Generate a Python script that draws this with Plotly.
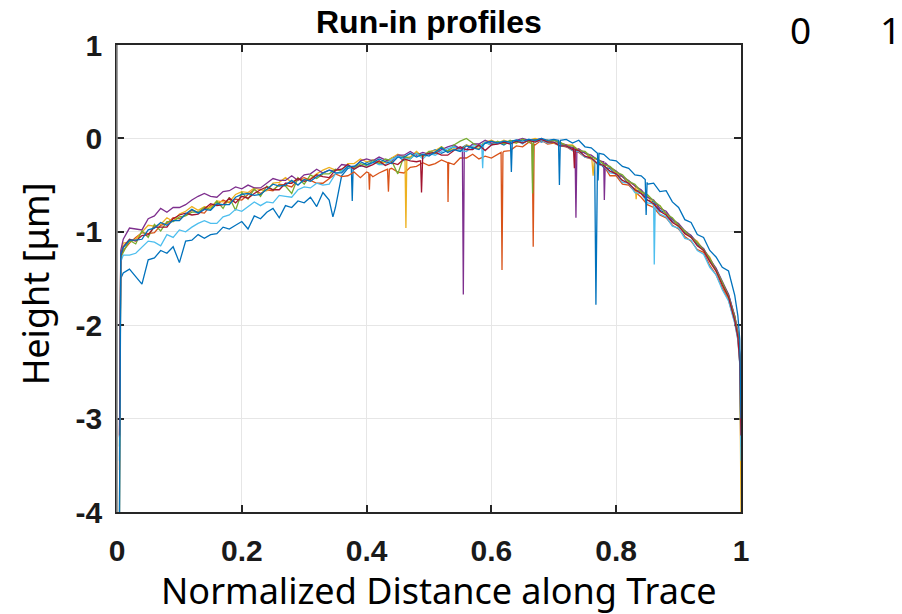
import plotly.graph_objects as go

# ---------------- data ----------------
X_GRID = [0.004, 0.006,
          0.01, 0.02, 0.03, 0.04, 0.05, 0.06, 0.07, 0.08, 0.09, 0.10,
          0.11, 0.12, 0.13, 0.14, 0.15, 0.16, 0.17, 0.18, 0.19, 0.20,
          0.21, 0.22, 0.23, 0.24, 0.25, 0.26, 0.27, 0.28, 0.29, 0.30,
          0.31, 0.32, 0.33, 0.34, 0.35, 0.36, 0.37, 0.38, 0.39, 0.40,
          0.41, 0.42, 0.43, 0.44, 0.45, 0.46, 0.47, 0.48, 0.49, 0.50,
          0.51, 0.52, 0.53, 0.54, 0.55, 0.56, 0.57, 0.58, 0.59, 0.60,
          0.61, 0.62, 0.63, 0.64, 0.65, 0.66, 0.67, 0.68, 0.69, 0.70,
          0.71, 0.72, 0.73, 0.74, 0.75, 0.76, 0.77, 0.78, 0.79, 0.80,
          0.81, 0.82, 0.83, 0.84, 0.85, 0.86, 0.87, 0.88, 0.89, 0.90,
          0.91, 0.92, 0.93, 0.94, 0.95, 0.96, 0.97, 0.98, 0.99,
          0.995, 0.998, 1.0]

profile_1 = [-4.0, -1.50,
             -1.44, -1.40, -1.48, -1.56, -1.30, -1.28, -1.20, -1.23, -1.16, -1.33,
             -1.10, -1.09, -1.03, -1.07, -1.03, -1.02, -0.95, -0.97, -0.93, -0.89,
             -0.97, -0.83, -0.86, -0.79, -0.75, -0.85, -0.72, -0.74, -0.67, -0.69,
             -0.63, -0.73, -0.58, -0.66, -0.74, -0.40, -0.32, -0.30, -0.30, -0.26,
             -0.23, -0.28, -0.25, -0.21, -0.19, -0.24, -0.20, -0.16, -0.19, -0.15,
             -0.12, -0.16, -0.13, -0.09, -0.11, -0.07, -0.11, -0.08, -0.05, -0.06,
             -0.04, -0.07, -0.03, -0.02, -0.05, -0.02, -0.01, -0.04, -0.02, -0.05,
             -0.05, -0.09, -0.10, -0.15, -0.15, -0.22, -0.24, -0.31, -0.32, -0.39,
             -0.41, -0.49, -0.55, -0.57, -0.66, -0.68, -0.77, -0.80, -0.89, -0.92,
             -1.01, -1.04, -1.14, -1.18, -1.31, -1.39, -1.55, -1.67, -1.91,
             -2.07, -2.30, -2.60]
spikes_1 = [(0.346, -0.84), (0.3755, -0.31), (0.377, -0.67), (0.3785, -0.30),
            (0.7655, -0.23), (0.7675, -1.78), (0.7695, -0.24)]

profile_2 = [-3.55, -1.25,
             -1.20, -1.12, -1.06, -1.01, -1.02, -1.01, -0.93, -0.91, -0.85, -0.86,
             -0.82, -0.77, -0.79, -0.80, -0.72, -0.71, -0.66, -0.69, -0.65, -0.66,
             -0.60, -0.55, -0.59, -0.55, -0.56, -0.49, -0.50, -0.52, -0.44, -0.42,
             -0.45, -0.48, -0.48, -0.43, -0.38, -0.41, -0.40, -0.36, -0.42, -0.36,
             -0.41, -0.37, -0.34, -0.32, -0.36, -0.37, -0.31, -0.30, -0.26, -0.29,
             -0.27, -0.23, -0.26, -0.28, -0.21, -0.21, -0.17, -0.22, -0.19, -0.21,
             -0.17, -0.14, -0.13, -0.08, -0.09, -0.04, -0.07, -0.02, -0.06, -0.05,
             -0.08, -0.09, -0.13, -0.15, -0.20, -0.22, -0.27, -0.29, -0.40, -0.40,
             -0.49, -0.50, -0.57, -0.63, -0.71, -0.74, -0.82, -0.85, -0.93, -0.97,
             -1.05, -1.10, -1.19, -1.22, -1.36, -1.46, -1.60, -1.73, -1.97,
             -2.15, -2.40, -3.55]
spikes_2 = [(0.4035, -0.37), (0.4045, -0.55), (0.4055, -0.38),
            (0.4335, -0.33), (0.435, -0.57), (0.4365, -0.33),
            (0.5295, -0.26), (0.5305, -0.68), (0.5315, -0.26),
            (0.6155, -0.15), (0.617, -1.41), (0.6185, -0.15),
            (0.6655, -0.06), (0.667, -1.16), (0.6685, -0.06)]

profile_3 = [-4.0, -1.24,
             -1.12, -1.11, -1.08, -1.00, -0.93, -0.94, -0.92, -0.85, -0.89, -0.81,
             -0.78, -0.73, -0.77, -0.73, -0.74, -0.67, -0.68, -0.68, -0.60, -0.57,
             -0.58, -0.53, -0.55, -0.56, -0.48, -0.47, -0.42, -0.47, -0.43, -0.45,
             -0.43, -0.38, -0.34, -0.31, -0.34, -0.34, -0.27, -0.27, -0.22, -0.25,
             -0.23, -0.26, -0.26, -0.21, -0.17, -0.20, -0.20, -0.14, -0.20, -0.14,
             -0.13, -0.09, -0.14, -0.11, -0.13, -0.07, -0.09, -0.11, -0.04, -0.02,
             -0.05, -0.02, -0.04, -0.05, -0.01, -0.02, 0.00, -0.02, -0.02, -0.05,
             -0.05, -0.07, -0.07, -0.13, -0.15, -0.22, -0.22, -0.27, -0.31, -0.37,
             -0.41, -0.47, -0.50, -0.58, -0.61, -0.72, -0.72, -0.81, -0.86, -0.95,
             -0.99, -1.06, -1.10, -1.20, -1.27, -1.42, -1.56, -1.71, -1.90,
             -2.08, -2.33, -4.0]
spikes_3 = [(0.4615, -0.20), (0.463, -0.96), (0.4645, -0.20),
            (0.761, -0.22), (0.763, -0.40), (0.765, -0.22),
            (0.8305, -0.51), (0.832, -0.65), (0.8335, -0.52)]

profile_4 = [-3.2, -1.20,
             -1.08, -0.96, -0.97, -0.98, -0.86, -0.83, -0.75, -0.79, -0.74, -0.74,
             -0.71, -0.66, -0.62, -0.59, -0.62, -0.63, -0.57, -0.56, -0.52, -0.54,
             -0.50, -0.53, -0.53, -0.48, -0.43, -0.45, -0.45, -0.40, -0.45, -0.39,
             -0.38, -0.33, -0.37, -0.34, -0.35, -0.28, -0.29, -0.32, -0.24, -0.22,
             -0.24, -0.20, -0.23, -0.25, -0.18, -0.18, -0.14, -0.18, -0.15, -0.17,
             -0.16, -0.12, -0.09, -0.07, -0.11, -0.12, -0.06, -0.06, -0.02, -0.05,
             -0.04, -0.05, -0.05, -0.02, 0.00, -0.02, -0.02, 0.00, -0.04, -0.02,
             -0.05, -0.07, -0.10, -0.11, -0.16, -0.18, -0.23, -0.25, -0.31, -0.35,
             -0.41, -0.45, -0.51, -0.55, -0.63, -0.66, -0.75, -0.78, -0.87, -0.91,
             -0.99, -1.04, -1.12, -1.18, -1.29, -1.39, -1.53, -1.67, -1.90,
             -2.08, -2.32, -3.2]
spikes_4 = [(0.5535, -0.11), (0.555, -1.67), (0.5565, -0.12),
            (0.734, -0.10), (0.7355, -0.85), (0.737, -0.12),
            (0.7795, -0.25), (0.781, -0.66), (0.7825, -0.26)]

profile_5 = [-3.3, -1.28,
             -1.22, -1.09, -1.13, -0.99, -1.06, -0.92, -0.99, -0.89, -0.89, -0.84,
             -0.83, -0.79, -0.79, -0.74, -0.76, -0.67, -0.75, -0.63, -0.77, -0.58,
             -0.65, -0.54, -0.62, -0.51, -0.55, -0.50, -0.51, -0.59, -0.42, -0.49,
             -0.39, -0.43, -0.38, -0.38, -0.33, -0.35, -0.30, -0.32, -0.27, -0.29,
             -0.24, -0.27, -0.22, -0.24, -0.38, -0.19, -0.22, -0.16, -0.19, -0.14,
             -0.16, -0.09, -0.14, -0.07, -0.03, 0.00, -0.05, -0.09, -0.04, -0.07,
             -0.03, -0.06, -0.02, -0.05, -0.01, -0.04, -0.02, -0.01, -0.04, -0.02,
             -0.04, -0.08, -0.08, -0.13, -0.14, -0.20, -0.22, -0.28, -0.30, -0.36,
             -0.39, -0.46, -0.49, -0.57, -0.60, -0.67, -0.72, -0.81, -0.85, -0.93,
             -0.99, -1.05, -1.12, -1.19, -1.29, -1.41, -1.54, -1.69, -1.92,
             -2.10, -2.36, -3.3]
spikes_5 = [(0.6645, -0.02), (0.666, -0.59), (0.6675, -0.02)]

profile_6 = [-3.45, -1.32,
             -1.25, -1.25, -1.23, -1.16, -1.10, -1.11, -1.15, -1.03, -1.06, -0.98,
             -1.00, -0.95, -0.91, -0.88, -0.91, -0.91, -0.84, -0.82, -0.76, -0.78,
             -0.73, -0.68, -0.72, -0.68, -0.69, -0.61, -0.62, -0.63, -0.55, -0.52,
             -0.53, -0.48, -0.50, -0.49, -0.38, -0.35, -0.29, -0.33, -0.29, -0.31,
             -0.25, -0.28, -0.28, -0.23, -0.19, -0.22, -0.22, -0.16, -0.22, -0.16,
             -0.18, -0.14, -0.11, -0.09, -0.13, -0.14, -0.08, -0.08, -0.04, -0.07,
             -0.05, -0.03, -0.05, -0.02, -0.06, -0.01, -0.04, -0.02, -0.05, -0.04,
             -0.08, -0.08, -0.13, -0.14, -0.20, -0.21, -0.28, -0.29, -0.37, -0.38,
             -0.47, -0.48, -0.58, -0.59, -0.69, -0.71, -0.81, -0.84, -0.94, -0.96,
             -1.07, -1.09, -1.20, -1.24, -1.38, -1.46, -1.62, -1.74, -1.98,
             -2.16, -2.42, -3.45]
spikes_6 = [(0.5845, -0.07), (0.586, -0.32), (0.5875, -0.06),
            (0.8595, -0.70), (0.861, -1.35), (0.8625, -0.73)]

profile_7 = [-3.18, -1.26,
             -1.16, -1.08, -1.10, -1.04, -1.03, -0.95, -0.95, -0.95, -0.86, -0.82,
             -0.80, -0.82, -0.81, -0.75, -0.70, -0.72, -0.71, -0.64, -0.69, -0.62,
             -0.64, -0.59, -0.55, -0.52, -0.55, -0.55, -0.48, -0.48, -0.43, -0.46,
             -0.44, -0.39, -0.41, -0.42, -0.34, -0.33, -0.28, -0.33, -0.29, -0.31,
             -0.28, -0.24, -0.29, -0.26, -0.28, -0.22, -0.24, -0.25, -0.18, -0.16,
             -0.15, -0.18, -0.18, -0.13, -0.09, -0.12, -0.12, -0.07, -0.13, -0.07,
             -0.06, -0.04, -0.06, -0.03, -0.05, -0.02, -0.04, -0.01, -0.04, -0.04,
             -0.08, -0.08, -0.12, -0.13, -0.19, -0.21, -0.27, -0.29, -0.35, -0.38,
             -0.45, -0.48, -0.55, -0.59, -0.66, -0.70, -0.78, -0.82, -0.90, -0.94,
             -1.02, -1.06, -1.15, -1.20, -1.32, -1.42, -1.57, -1.70, -1.95,
             -2.13, -2.40, -3.18]
spikes_7 = [(0.4865, -0.24), (0.488, -0.58), (0.4895, -0.22),
            (0.7315, -0.10), (0.733, -0.32), (0.7345, -0.12)]

profile_8 = [-4.0, -1.24,
             -1.17, -1.09, -1.09, -1.08, -0.98, -0.96, -0.90, -0.93, -0.88, -0.88,
             -0.81, -0.76, -0.80, -0.76, -0.77, -0.70, -0.71, -0.71, -0.63, -0.60,
             -0.59, -0.61, -0.60, -0.54, -0.49, -0.51, -0.50, -0.45, -0.50, -0.44,
             -0.46, -0.41, -0.37, -0.34, -0.37, -0.37, -0.30, -0.30, -0.25, -0.28,
             -0.26, -0.22, -0.25, -0.27, -0.20, -0.20, -0.16, -0.20, -0.17, -0.19,
             -0.14, -0.10, -0.15, -0.12, -0.14, -0.08, -0.10, -0.12, -0.05, -0.03,
             -0.05, -0.03, -0.04, -0.02, -0.03, -0.01, -0.02, 0.00, -0.02, -0.01,
             -0.03, -0.01, -0.05, -0.02, -0.09, -0.10, -0.16, -0.17, -0.23, -0.24,
             -0.30, -0.32, -0.39, -0.40, -0.49, -0.48, -0.57, -0.56, -0.68, -0.74,
             -0.87, -0.90, -1.03, -1.06, -1.20, -1.27, -1.38, -1.42, -1.68,
             -1.90, -2.15, -3.0]
spikes_8 = [(0.6305, -0.04), (0.632, -0.36), (0.6335, -0.03),
            (0.7075, -0.02), (0.709, -0.50), (0.7105, -0.02),
            (0.7695, -0.16), (0.771, -0.45), (0.7725, -0.16),
            (0.8465, -0.44), (0.848, -0.82), (0.8495, -0.47)]

PROFILES = [profile_1, profile_2, profile_3, profile_4,
            profile_5, profile_6, profile_7, profile_8]
SPIKES = [spikes_1, spikes_2, spikes_3, spikes_4,
          spikes_5, spikes_6, spikes_7, spikes_8]
COLORS = ["#0072BD", "#D95319", "#EDB120", "#7E2F8E",
          "#77AC30", "#4DBEEE", "#A2142F", "#0072BD"]

X_TICKS = [0, 0.2, 0.4, 0.6, 0.8, 1]
X_TICKTEXT = ["0", "0.2", "0.4", "0.6", "0.8", "1"]
Y_TICKS = [1, 0, -1, -2, -3, -4]
Y_TICKTEXT = ["1", "0", "-1", "-2", "-3", "-4"]

TITLE = "Run-in profiles"
X_LABEL = "Normalized Distance along Trace"
Y_LABEL = "Height [μm]"
CORNER_LABELS = ["0", "1"]

# ---------------- figure ----------------
fig = go.Figure()
for prof, spk, col in zip(PROFILES, SPIKES, COLORS):
    assert len(prof) == len(X_GRID)
    pts = sorted(list(zip(X_GRID, prof)) + spk)
    fig.add_trace(go.Scatter(
        x=[p[0] for p in pts], y=[p[1] for p in pts], mode="lines",
        line=dict(color=col, width=1.3), showlegend=False, hoverinfo="skip"))

axis_common = dict(
    ticks="inside", ticklen=7, tickwidth=1.5, tickcolor="#262626",
    showline=True, linecolor="#262626", linewidth=1.8, mirror="allticks",
    showgrid=True, gridcolor="#e6e6e6", gridwidth=1, zeroline=False,
    tickfont=dict(family="Liberation Sans, Arial", size=30, color="#1a1a1a",
                  weight="bold"),
    layer="below traces",
)

fig.update_layout(
    width=902, height=614,
    margin=dict(l=117, r=161, t=45, b=102),
    paper_bgcolor="white", plot_bgcolor="white",
    showlegend=False,
    xaxis=dict(range=[0, 1], tickvals=X_TICKS, ticktext=X_TICKTEXT,
               ticklabelstandoff=11, **axis_common),
    yaxis=dict(range=[-4, 1], tickvals=Y_TICKS, ticktext=Y_TICKTEXT,
               ticklabelstandoff=7, **axis_common),
)

fig.add_shape(type="line", xref="x domain", yref="y domain",
              x0=0, x1=0, y0=0, y1=1, line=dict(color="#8a8a8a", width=1.6),
              layer="above")

ann = []
ann.append(dict(text=TITLE, xref="paper", yref="paper", x=0.5, y=1.049,
                xanchor="center", yanchor="middle", showarrow=False,
                font=dict(family="Liberation Sans, Arial", size=32,
                          color="#000000", weight="bold")))
ann.append(dict(text=X_LABEL, xref="paper", yref="paper", x=0.516, y=-0.169,
                xanchor="center", yanchor="middle", showarrow=False,
                font=dict(family="Noto Sans", size=36, color="#000000")))
ann.append(dict(text=Y_LABEL, xref="paper", yref="paper", x=-0.131, y=0.488,
                xanchor="center", yanchor="middle", showarrow=False,
                textangle=-90,
                font=dict(family="Noto Sans", size=36, color="#000000")))
for lab, px in zip(CORNER_LABELS, [1.0946, 1.2390]):
    ann.append(dict(text=lab, xref="paper", yref="paper", x=px, y=1.033,
                    xanchor="center", yanchor="middle", showarrow=False,
                    font=dict(family="Noto Sans", size=37, color="#000000")))
fig.update_layout(annotations=ann)

fig.write_html("out.html")
